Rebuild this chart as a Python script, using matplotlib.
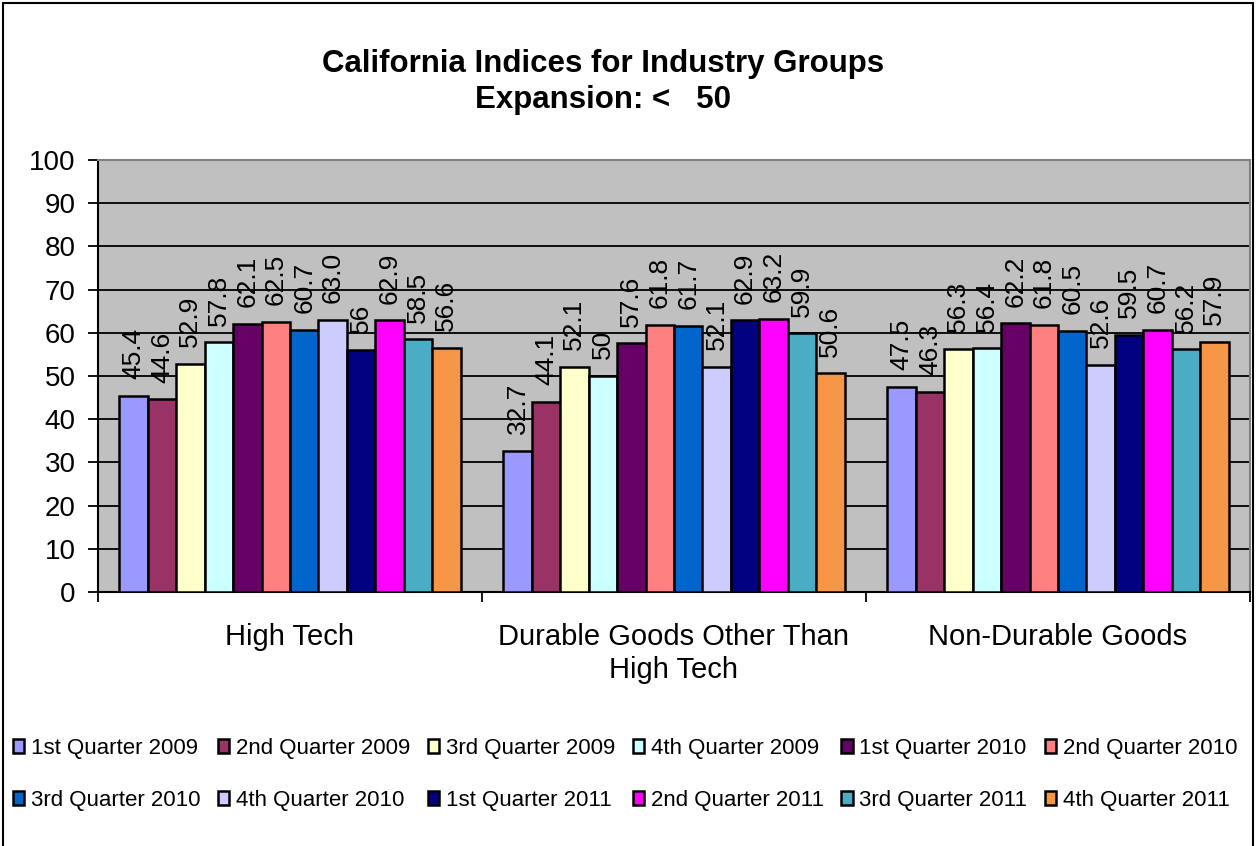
import numpy as np
import matplotlib
matplotlib.use('Agg')
from matplotlib import pyplot as plt
from matplotlib.patches import Rectangle

plt.rcParams['font.family'] = ['Liberation Sans', 'DejaVu Sans']

groups = ['High Tech', 'Durable Goods Other Than\nHigh Tech', 'Non-Durable Goods']
quarters = ['1st Quarter 2009', '2nd Quarter 2009', '3rd Quarter 2009', '4th Quarter 2009',
            '1st Quarter 2010', '2nd Quarter 2010', '3rd Quarter 2010', '4th Quarter 2010',
            '1st Quarter 2011', '2nd Quarter 2011', '3rd Quarter 2011', '4th Quarter 2011']

# values as printed on the chart (one string per quarter)
high_tech = ['45.4', '44.6', '52.9', '57.8', '62.1', '62.5', '60.7', '63.0', '56', '62.9', '58.5', '56.6']
durable = ['32.7', '44.1', '52.1', '50', '57.6', '61.8', '61.7', '52.1', '62.9', '63.2', '59.9', '50.6']
non_durable = ['47.5', '46.3', '56.3', '56.4', '62.2', '61.8', '60.5', '52.6', '59.5', '60.7', '56.2', '57.9']

colors = ['#9999FF', '#993366', '#FFFFCC', '#CCFFFF', '#660066', '#FF8080',
          '#0066CC', '#CCCCFF', '#000080', '#FF00FF', '#4BACC6', '#F79646']

labels = np.array([high_tech, durable, non_durable])   # shape (group, quarter)
values = labels.astype(float)

fig = plt.figure(figsize=(12.58, 8.46), dpi=100)
ax = fig.add_axes([0.0779, 0.3002, 0.9157, 0.5106])
ax.set_facecolor('#C0C0C0')

n = len(quarters)
width = 1 / (n + 1.5)
x = np.arange(len(groups))

handles = []
for i in range(n):
    pos = x + (i - (n - 1) / 2) * width
    b = ax.bar(pos, values[:, i], width, color=colors[i], edgecolor='black',
               linewidth=1.8, zorder=3, label=quarters[i])
    handles.append(b)
    for px, v, s in zip(pos, values[:, i], labels[:, i]):
        ax.annotate(s, (px, v), xytext=(0, 12), textcoords='offset points',
                    rotation=90, ha='center', va='bottom', fontsize=19, zorder=4)

ax.set_xlim(-0.5, 2.5)
ax.set_ylim(0, 100)
ax.set_yticks(range(0, 101, 10))
ax.yaxis.grid(True, color='black', linewidth=1.3, zorder=1)
ax.tick_params(axis='y', labelsize=20, length=7, width=1.3, direction='out', pad=9)

ax.set_xticks([-0.5, 0.5, 1.5, 2.5])
ax.set_xticklabels([])
ax.tick_params(axis='x', length=7, width=1.3, direction='out')
ax.set_xticks(x, minor=True)
ax.set_xticklabels(groups, minor=True, fontsize=21, linespacing=1.25)
ax.tick_params(axis='x', which='minor', length=0, pad=22)

for side in ['left', 'bottom']:
    ax.spines[side].set_linewidth(1.5)
    ax.spines[side].set_color('black')
for side in ['top', 'right']:
    ax.spines[side].set_linewidth(1.5)
    ax.spines[side].set_color('#808080')

fig.text(0.479, 0.903, 'California Indices for Industry Groups\nExpansion: <   50',
         ha='center', va='center', fontsize=22.5, fontweight='bold', linespacing=1.25)

# legend filled row by row
order = [j + r * 6 for j in range(6) for r in range(2)]
leg = fig.legend([handles[k] for k in order], [quarters[k] for k in order],
                 ncol=6, loc='center', bbox_to_anchor=(0.497, 0.085), frameon=False,
                 fontsize=16, handlelength=0.5, handleheight=0.6, handletextpad=0.3,
                 columnspacing=0.8, labelspacing=1.4)

fig.patches.append(Rectangle((0.0024, -0.05), 0.9936, 1.0465, transform=fig.transFigure,
                             fill=False, edgecolor='black', linewidth=1.5))

fig.savefig('out.png', dpi=100)
